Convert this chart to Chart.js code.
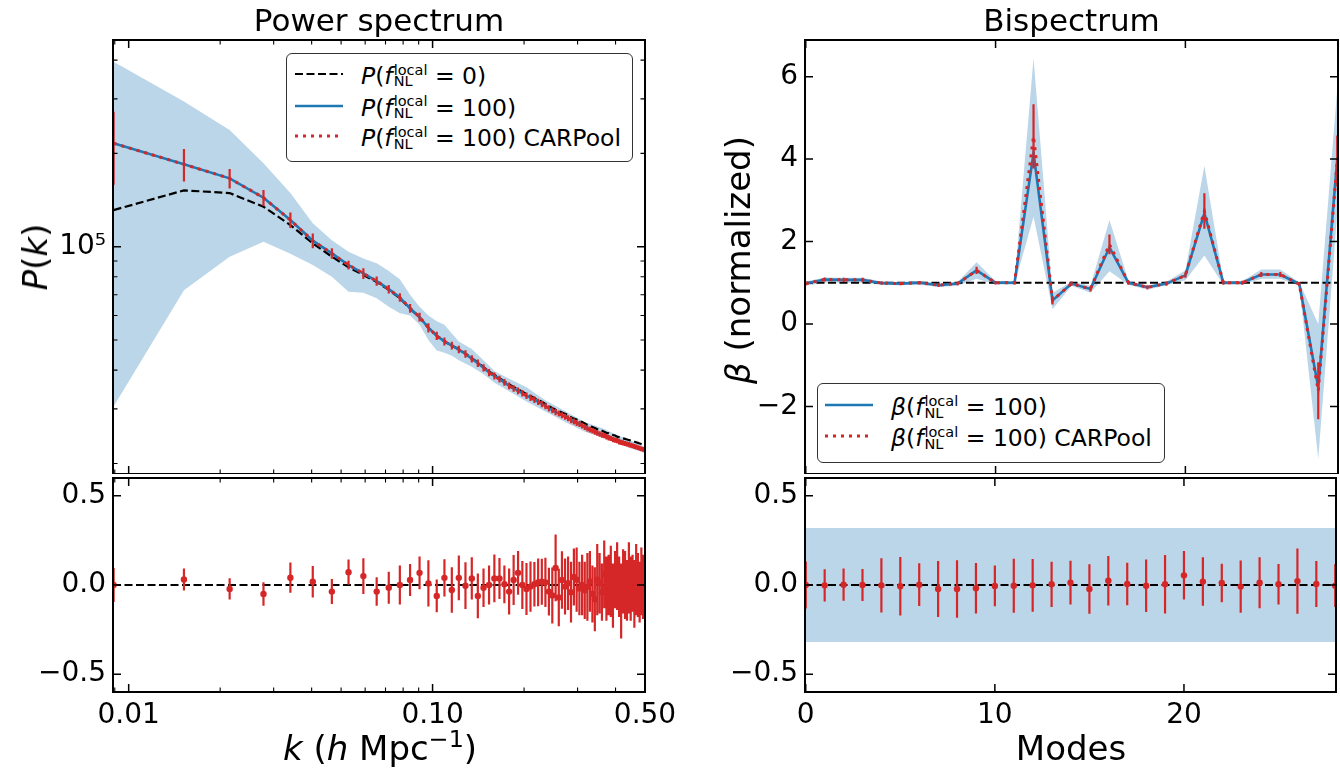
<!DOCTYPE html>
<html>
<head>
<meta charset="utf-8">
<script src="https://cdn.jsdelivr.net/npm/chart.js@4.4.1/dist/chart.umd.min.js"></script>
<style>
body{margin:0;width:1340px;height:770px;position:relative;overflow:hidden;background:#fff;font-family:'DejaVu Sans',sans-serif;color:#000}
canvas{position:absolute}
.t{position:absolute;white-space:nowrap}
.ttl{font-size:31px;line-height:36px;text-align:center;top:2px}
.ax{font-size:34px;line-height:40px;transform:translate(-50%,-50%)}
.ax.v{transform:translate(-50%,-50%) rotate(-90deg)}
.ax sup{font-size:0.7em;vertical-align:0.55em;line-height:0}
.leg{position:absolute;box-sizing:border-box;border:1.5px solid #333;border-radius:6px;background:#fff;font-size:23.5px}
.row{position:absolute;left:0;right:0;height:30px}
.row svg{position:absolute;top:0}
.row .lab{position:absolute;line-height:30px;top:2px;white-space:nowrap}
.st{display:inline-block;font-size:14.5px;line-height:11.7px;vertical-align:-2.7px;font-style:normal;margin-left:1px}
.st span{display:block}
</style>
</head>
<body>
<canvas id="pk" width="660" height="474" style="left:0;top:0"></canvas>
<canvas id="pkRes" width="700" height="296" style="left:0;top:474px"></canvas>
<canvas id="bk" width="680" height="474" style="left:660px;top:0"></canvas>
<canvas id="bkRes" width="680" height="296" style="left:660px;top:474px"></canvas>

<div class="t ttl" style="left:113px;width:532px">Power spectrum</div>
<div class="t ttl" style="left:805px;width:533px">Bispectrum</div>
<div class="t ax v" style="left:35px;top:257px"><i>P</i>(<i>k</i>)</div>
<div class="t ax v" style="left:738px;top:260px"><i>β</i> (normalized)</div>
<div class="t ax" style="left:380px;top:748px"><i>k</i> (<i>h</i> Mpc<sup>−1</sup>)</div>
<div class="t ax" style="left:1071px;top:748px">Modes</div>

<div class="leg" style="left:286px;top:53px;width:347px;height:109px">
  <div class="row" style="top:4.8px">
    <svg width="48" height="30" style="left:7.5px"><line x1="0" y1="15" x2="48" y2="15" stroke="#000" stroke-width="2.2" stroke-dasharray="8 3.5"/></svg>
    <span class="lab" style="left:74px"><i>P</i>(<i>f</i><span class="st"><span>local</span><span>NL</span></span> = 0)</span>
  </div>
  <div class="row" style="top:36.5px">
    <svg width="48" height="30" style="left:7.5px"><line x1="0" y1="15" x2="48" y2="15" stroke="#1f77b4" stroke-width="2.6"/></svg>
    <span class="lab" style="left:74px"><i>P</i>(<i>f</i><span class="st"><span>local</span><span>NL</span></span> = 100)</span>
  </div>
  <div class="row" style="top:67.2px">
    <svg width="48" height="30" style="left:7.5px"><line x1="0" y1="15" x2="48" y2="15" stroke="#d62728" stroke-width="3" stroke-dasharray="3 5"/></svg>
    <span class="lab" style="left:74px"><i>P</i>(<i>f</i><span class="st"><span>local</span><span>NL</span></span> = 100) CARPool</span>
  </div>
</div>

<div class="leg" style="left:817px;top:383px;width:348px;height:80px">
  <div class="row" style="top:6.2px">
    <svg width="48" height="30" style="left:6.5px"><line x1="0" y1="15" x2="48" y2="15" stroke="#1f77b4" stroke-width="2.6"/></svg>
    <span class="lab" style="left:73px"><i>β</i>(<i>f</i><span class="st"><span>local</span><span>NL</span></span> = 100)</span>
  </div>
  <div class="row" style="top:36.9px">
    <svg width="48" height="30" style="left:6.5px"><line x1="0" y1="15" x2="48" y2="15" stroke="#d62728" stroke-width="3" stroke-dasharray="3 5"/></svg>
    <span class="lab" style="left:73px"><i>β</i>(<i>f</i><span class="st"><span>local</span><span>NL</span></span> = 100) CARPool</span>
  </div>
</div>

<script>
// ---- power spectrum ----
var kBins = [0.00892, 0.01520, 0.02149, 0.02777, 0.03405, 0.04034, 0.04662, 0.05290, 0.05919, 0.06547,
  0.07175, 0.07803, 0.08432, 0.09060, 0.09688, 0.1032, 0.1094, 0.1157, 0.1220, 0.1283,
  0.1346, 0.1409, 0.1471, 0.1534, 0.1597, 0.1660, 0.1723, 0.1786, 0.1848, 0.1911,
  0.1974, 0.2037, 0.2100, 0.2163, 0.2225, 0.2288, 0.2351, 0.2414, 0.2477, 0.2540,
  0.2602, 0.2665, 0.2728, 0.2791, 0.2854, 0.2917, 0.2979, 0.3042, 0.3105, 0.3168,
  0.3231, 0.3294, 0.3356, 0.3419, 0.3482, 0.3545, 0.3608, 0.3671, 0.3733, 0.3796,
  0.3859, 0.3922, 0.3985, 0.4048, 0.4110, 0.4173, 0.4236, 0.4299, 0.4362, 0.4425,
  0.4487, 0.4550, 0.4613, 0.4676, 0.4739, 0.4801, 0.4864, 0.4927, 0.4990];

var pFnl0 = [131300, 152000, 149000, 134600, 117500, 102500, 92900, 85800, 81100, 77000,
  72600, 68300, 63100, 59200, 54800, 51600, 49500, 48000, 46700, 45200,
  43700, 42300, 40900, 39600, 38600, 37700, 36800, 36000, 35300, 34700,
  34100, 33500, 33000, 32500, 32000, 31600, 31100, 30600, 30200, 29800,
  29500, 29200, 28900, 28600, 28200, 27900, 27700, 27400, 27200, 26900,
  26600, 26400, 26200, 26000, 25800, 25600, 25500, 25300, 25100, 25000,
  24800, 24700, 24600, 24400, 24300, 24200, 24100, 24000, 23900, 23800,
  23700, 23600, 23500, 23400, 23300, 23200, 23100, 23000, 22900];

var pFnl100 = [215600, 184500, 166200, 143900, 121900, 104600, 95200, 87300, 82000, 77500,
  73000, 68600, 63300, 59300, 54800, 51600, 49500, 48000, 46600, 45100,
  43500, 42100, 40700, 39300, 38300, 37400, 36500, 35600, 34900, 34300,
  33700, 33100, 32600, 32100, 31600, 31100, 30600, 30100, 29700, 29300,
  29000, 28600, 28300, 28000, 27600, 27300, 27000, 26800, 26500, 26200,
  25900, 25700, 25500, 25300, 25100, 24900, 24700, 24600, 24400, 24200,
  24100, 23900, 23800, 23700, 23500, 23400, 23300, 23200, 23100, 23000,
  22900, 22800, 22700, 22600, 22500, 22400, 22300, 22200, 22100];

// the CARPool estimate sits right on top of the fNL=100 curve
var pCarpool = pFnl100;
var pCarpoolErr = [57000, 22000, 12000, 8500, 7000, 5800, 3700, 2900, 3300, 2600,
  2300, 2200, 2000, 1900, 1900, 1600, 1500, 1400, 1300, 1250,
  1200, 1150, 1100, 1050, 1000, 950, 920, 900, 870, 850,
  820, 800, 780, 760, 740, 720, 700, 690, 680, 670,
  660, 650, 640, 630, 620, 610, 600, 590, 580, 570,
  560, 550, 540, 530, 520, 510, 500, 495, 490, 485,
  480, 475, 470, 465, 460, 455, 450, 445, 440, 435,
  430, 425, 420, 415, 410, 405, 400, 395, 390];

var bandK = [0.00892, 0.01520, 0.02149, 0.02777, 0.03405, 0.04034, 0.04662, 0.05290, 0.05919, 0.06547,
  0.07175, 0.07803, 0.08432, 0.09060, 0.09688, 0.1032, 0.1094, 0.1157, 0.1220, 0.1346,
  0.1471, 0.1597, 0.1786, 0.2037, 0.2351, 0.2728, 0.3168, 0.3608, 0.4048, 0.4487, 0.4990];
var bandPHi = [395000, 294000, 238000, 186000, 149000, 119000, 105000, 96400, 91700, 88400,
  83500, 78500, 70000, 64000, 60000, 57500, 56000, 52500, 49500, 46800,
  43000, 39700, 37500, 35200, 32000, 29500, 27200, 26000, 24700, 23700, 22600];
var bandPLo = [30500, 72400, 92900, 103800, 95000, 87300, 80000, 71600, 71100, 68200,
  64000, 61000, 60000, 56000, 50000, 46300, 45500, 44500, 43000, 41000,
  38800, 36400, 34200, 31700, 29400, 27200, 25300, 24300, 23200, 22400, 21600];

var pkResid = [0.0, 0.031, -0.022, -0.05, 0.041, 0.018, -0.037, 0.072, 0.05, -0.037,
  -0.015, 0.0, 0.028, 0.068, 0.009, -0.061, 0.04, -0.028, 0.04, -0.004,
  0.037, -0.061, -0.015, 0.0, 0.037, 0.037, 0.004, -0.037, 0.028, 0.068,
  0.0, -0.022, -0.009, 0.004, 0.015, 0.018, 0.015, -0.037, -0.059, 0.096,
  -0.07, 0.028, -0.009, 0.01, -0.04, 0.045, 0.03, -0.02, 0.0, -0.03,
  -0.01, 0.02, -0.05, -0.08, 0.03, 0.01, -0.04, 0.06, -0.02, 0.0,
  0.02, -0.06, 0.03, 0.05, -0.01, -0.09, 0.02, 0.0, -0.03, 0.04,
  -0.02, 0.01, -0.05, 0.03, 0.0, -0.04, 0.02, -0.01, 0.0];
var pkResidErr = [0.095, 0.062, 0.06, 0.066, 0.085, 0.088, 0.07, 0.071, 0.1, 0.08,
  0.09, 0.109, 0.09, 0.092, 0.13, 0.092, 0.104, 0.127, 0.126, 0.131,
  0.118, 0.126, 0.108, 0.11, 0.134, 0.115, 0.106, 0.129, 0.14, 0.123,
  0.134, 0.146, 0.141, 0.125, 0.134, 0.129, 0.138, 0.134, 0.157, 0.187,
  0.161, 0.161, 0.157, 0.15, 0.17, 0.16, 0.18, 0.15, 0.17, 0.16,
  0.19, 0.17, 0.16, 0.18, 0.2, 0.17, 0.16, 0.19, 0.18, 0.17,
  0.2, 0.18, 0.16, 0.19, 0.17, 0.21, 0.18, 0.19, 0.17, 0.2,
  0.18, 0.16, 0.19, 0.2, 0.18, 0.17, 0.19, 0.18, 0.17];

var kRange = [0.00888, 0.5];
var pRange = [18490, 464400];
var kTickVals = [0.01, 0.1, 0.5];
var kTickLabels = ['0.01', '0.10', '0.50'];
var kMajor = [0.01, 0.1];
var kMinor = [0.009, 0.02, 0.03, 0.04, 0.05, 0.06, 0.07, 0.08, 0.09, 0.2, 0.3, 0.4, 0.5];
var pTickVals = [100000];
var pTickLabels = ['10⁵'];
var pMinor = [20000, 30000, 40000, 50000, 60000, 70000, 80000, 90000, 200000, 300000, 400000];

// ---- bispectrum ----
var modes = [0, 1, 2, 3, 4, 5, 6, 7, 8, 9, 10, 11, 12, 13, 14, 15, 16, 17, 18, 19, 20, 21, 22, 23, 24, 25, 26, 27, 28];
var betaFnl100 = [0.98, 1.08, 1.07, 1.07, 0.99, 0.98, 1.0, 0.94, 0.98, 1.3, 1.0, 1.0, 4.15, 0.57, 0.98,
  0.85, 1.86, 1.0, 0.89, 0.98, 1.18, 2.69, 1.0, 1.0, 1.2, 1.2, 0.97, -1.54, 4.0];
var betaCarpool = [0.98, 1.08, 1.07, 1.07, 0.99, 0.98, 1.0, 0.94, 0.98, 1.3, 1.0, 1.0, 4.55, 0.57, 0.98,
  0.85, 1.93, 1.0, 0.89, 0.98, 1.18, 2.74, 1.0, 1.0, 1.2, 1.2, 0.97, -1.62, 3.95];
var betaErr = [0.04, 0.05, 0.05, 0.05, 0.04, 0.04, 0.04, 0.04, 0.04, 0.09, 0.04, 0.04, 0.78, 0.1, 0.05,
  0.06, 0.24, 0.05, 0.05, 0.05, 0.06, 0.43, 0.05, 0.05, 0.06, 0.06, 0.05, 0.69, 0.62];
var betaLo = [0.93, 1.0, 1.0, 1.0, 0.95, 0.94, 0.96, 0.9, 0.93, 1.1, 0.96, 0.96, 2.6, 0.36, 0.93,
  0.76, 1.28, 0.95, 0.83, 0.94, 1.06, 1.66, 0.95, 0.95, 1.1, 1.1, 0.92, -3.27, 2.7];
var betaHi = [1.03, 1.13, 1.12, 1.12, 1.03, 1.02, 1.04, 0.98, 1.02, 1.5, 1.04, 1.04, 6.45, 0.75, 1.03,
  0.93, 2.52, 1.05, 0.93, 1.03, 1.3, 3.84, 1.04, 1.04, 1.32, 1.32, 1.01, 0.0, 5.7];
var bkResid = [0.0, -0.002, 0.002, 0.0, -0.002, -0.007, 0.002, -0.022, -0.022, -0.018, -0.005, -0.004, -0.002, 0.004, 0.013,
  -0.022, 0.024, 0.006, -0.004, 0.004, 0.054, 0.019, 0.011, -0.009, 0.013, 0.004, 0.022, 0.006, -0.004];
var bkResidErr = [0.132, 0.09, 0.09, 0.09, 0.152, 0.164, 0.12, 0.157, 0.161, 0.142, 0.114, 0.151, 0.148, 0.127, 0.123,
  0.139, 0.139, 0.119, 0.147, 0.164, 0.136, 0.136, 0.108, 0.147, 0.143, 0.114, 0.183, 0.129, 0.12];
var bkBandLo = [-0.32, -0.32];
var bkBandHi = [0.32, 0.32];

var modeRange = [-0.04, 28.04];
var betaRange = [-3.64, 6.89];
var resRange = [-0.6, 0.6];
var modeTickVals = [0, 10, 20];
var modeTickLabels = ['0', '10', '20'];
var betaTickVals = [-2, 0, 2, 4, 6];
var betaTickLabels = ['−2', '0', '2', '4', '6'];
var resTickVals = [-0.5, 0, 0.5];
var resTickLabels = ['−0.5', '0.0', '0.5'];

// ---- drawing ----
var RED = '#d62728', BLUE = '#1f77b4', BAND = 'rgba(31,119,180,0.3)';
var DASH = [8, 3.5];

function pts(xs, ys) {
  return xs.map(function (x, i) { return {x: x, y: ys[i]}; });
}
// vertical error bars as one broken line
function bars(xs, ys, es) {
  var out = [];
  xs.forEach(function (x, i) {
    out.push({x: x, y: ys[i] - es[i]}, {x: x, y: ys[i] + es[i]}, {x: x, y: null});
  });
  return out;
}

function lineSet(data, color, width, dash) {
  return {data: data, borderColor: color, borderWidth: width, borderDash: dash || [],
          pointRadius: 0, fill: false, spanGaps: false, tension: 0};
}
function bandSets(xs, lo, hi) {
  return [
    {data: pts(xs, hi), borderColor: 'rgba(0,0,0,0)', borderWidth: 0, pointRadius: 0, fill: '+1', backgroundColor: BAND},
    {data: pts(xs, lo), borderColor: 'rgba(0,0,0,0)', borderWidth: 0, pointRadius: 0, fill: false}
  ];
}
function markers(xs, ys) {
  return {data: pts(xs, ys), showLine: false, pointRadius: 3.2, pointBackgroundColor: RED,
          pointBorderWidth: 0, borderColor: RED};
}

function axis(type, range, vals, labels, size, show) {
  return {
    type: type, min: range[0], max: range[1], bounds: 'data',
    grid: {display: false, drawTicks: false}, border: {display: false},
    ticks: {display: show, color: '#000', padding: 7, autoSkip: false, maxRotation: 0,
            font: {family: 'DejaVu Sans', size: 28},
            callback: function (v, i) { return labels[i]; }},
    afterBuildTicks: function (s) { s.ticks = vals.map(function (v) { return {value: v}; }); },
    afterFit: function (s) {
      if (s.isHorizontal()) s.height = size; else s.width = size;
      s.paddingLeft = s.paddingRight = s.paddingTop = s.paddingBottom = 0;
    }
  };
}

// matplotlib-style box with inward ticks on all four sides
function frame(t) {
  return {
    id: 'frame',
    afterDatasetsDraw: function (chart) {
      var a = chart.chartArea, ctx = chart.ctx, xs = chart.scales.x, ys = chart.scales.y;
      ctx.save();
      ctx.strokeStyle = '#000';
      function xt(list, len) {
        (list || []).forEach(function (v) {
          if (v < xs.min || v > xs.max) return;
          var p = xs.getPixelForValue(v);
          ctx.beginPath();
          ctx.moveTo(p, a.bottom); ctx.lineTo(p, a.bottom - len);
          ctx.moveTo(p, a.top); ctx.lineTo(p, a.top + len);
          ctx.stroke();
        });
      }
      function yt(list, len) {
        (list || []).forEach(function (v) {
          if (v < ys.min || v > ys.max) return;
          var p = ys.getPixelForValue(v);
          ctx.beginPath();
          ctx.moveTo(a.left, p); ctx.lineTo(a.left + len, p);
          ctx.moveTo(a.right, p); ctx.lineTo(a.right - len, p);
          ctx.stroke();
        });
      }
      ctx.lineWidth = 1.5;
      xt(t.xMajor, 8); yt(t.yMajor, 8);
      ctx.lineWidth = 1.1;
      xt(t.xMinor, 4.5); yt(t.yMinor, 4.5);
      ctx.lineWidth = 2;
      ctx.strokeRect(a.left, a.top, a.right - a.left, a.bottom - a.top);
      ctx.restore();
    }
  };
}

function opts(pad, x, y) {
  return {
    responsive: false, animation: false, devicePixelRatio: 1, events: [],
    layout: {padding: pad},
    plugins: {legend: {display: false}, tooltip: {enabled: false}, filler: {drawTime: 'beforeDatasetsDraw'}},
    scales: {x: x, y: y}
  };
}

// top left: P(k)
new Chart(document.getElementById('pk'), {
  type: 'line',
  data: {datasets: [
    lineSet(bars(kBins, pCarpool, pCarpoolErr), RED, 2.2),
    lineSet(pts(kBins, pCarpool), RED, 3, [3, 5]),
    lineSet(pts(kBins, pFnl100), BLUE, 2.6),
    lineSet(pts(kBins, pFnl0), '#000', 2.2, DASH)
  ].concat(bandSets(bandK, bandPLo, bandPHi))},
  options: opts({top: 40, right: 15, left: 0, bottom: 0},
    axis('logarithmic', kRange, kTickVals, kTickLabels, 0, false),
    axis('logarithmic', pRange, pTickVals, pTickLabels, 113, true)),
  plugins: [frame({xMajor: kMajor, xMinor: kMinor, yMajor: pTickVals, yMinor: pMinor})]
});

// bottom left: residuals
new Chart(document.getElementById('pkRes'), {
  type: 'line',
  data: {datasets: [
    markers(kBins, pkResid),
    lineSet(bars(kBins, pkResid, pkResidErr), RED, 2.2),
    lineSet(pts(kRange, [0, 0]), '#000', 2.2, DASH)
  ]},
  options: opts({top: 0, right: 55, left: 0, bottom: 0},
    axis('logarithmic', kRange, kTickVals, kTickLabels, 78, true),
    axis('linear', resRange, resTickVals, resTickLabels, 113, true)),
  plugins: [frame({xMajor: kMajor, xMinor: kMinor, yMajor: resTickVals})]
});

// top right: beta
new Chart(document.getElementById('bk'), {
  type: 'line',
  data: {datasets: [
    lineSet(bars(modes, betaCarpool, betaErr), RED, 2.2),
    lineSet(pts(modes, betaCarpool), RED, 3, [3, 5]),
    lineSet(pts(modes, betaFnl100), BLUE, 2.6),
    lineSet(pts(modeRange, [1, 1]), '#000', 2.2, DASH)
  ].concat(bandSets(modes, betaLo, betaHi))},
  options: opts({top: 40, right: 2, left: 0, bottom: 0},
    axis('linear', modeRange, modeTickVals, modeTickLabels, 0, false),
    axis('linear', betaRange, betaTickVals, betaTickLabels, 145, true)),
  plugins: [frame({xMajor: modeTickVals, yMajor: betaTickVals})]
});

// bottom right: residuals
new Chart(document.getElementById('bkRes'), {
  type: 'line',
  data: {datasets: [
    markers(modes, bkResid),
    lineSet(bars(modes, bkResid, bkResidErr), RED, 2.2),
    lineSet(pts(modeRange, [0, 0]), '#000', 2.2, DASH)
  ].concat(bandSets(modeRange, bkBandLo, bkBandHi))},
  options: opts({top: 0, right: 2, left: 0, bottom: 0},
    axis('linear', modeRange, modeTickVals, modeTickLabels, 78, true),
    axis('linear', resRange, resTickVals, resTickLabels, 145, true)),
  plugins: [frame({xMajor: modeTickVals, yMajor: resTickVals})]
});
</script>
</body>
</html>
